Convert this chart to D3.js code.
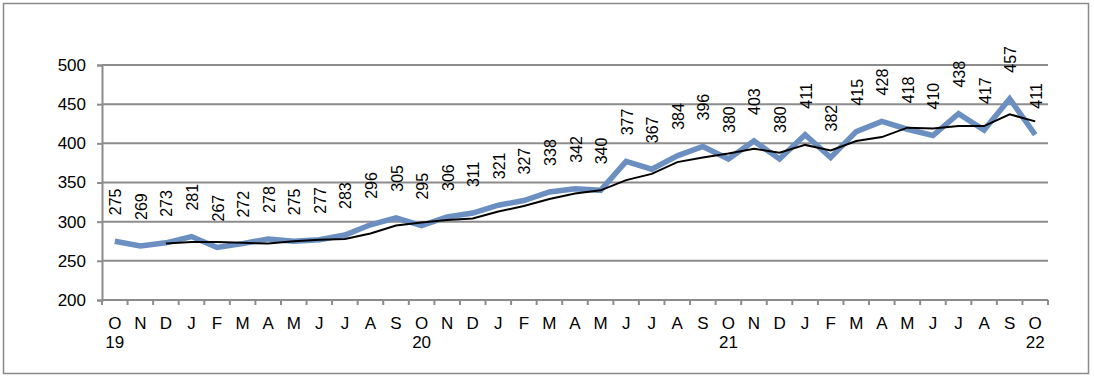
<!DOCTYPE html>
<html lang="en">
<head>
<meta charset="utf-8">
<script src="https://d3js.org/d3.v7.min.js"></script>
<style>
  body { margin: 0; background: #fff; }
  text { font-family: Arial, "Liberation Sans", sans-serif; fill: #000; }
</style>
</head>
<body>
<div id="my_dataviz"></div>
<script>

// months from Oct 2019 to Oct 2022
var months = ["O","N","D","J","F","M","A","M","J","J","A","S",
              "O","N","D","J","F","M","A","M","J","J","A","S",
              "O","N","D","J","F","M","A","M","J","J","A","S","O"];
var years = {0: "19", 12: "20", 24: "21", 36: "22"};

// monthly values (blue line, labelled)
var values = [275,269,273,281,267,272,278,275,277,283,296,305,
              295,306,311,321,327,338,342,340,377,367,384,396,
              380,403,380,411,382,415,428,418,410,438,417,457,411];

// smoothed line (black), starts at third month
var trend = [null,null,272,274,274,273,272,275,277,278,285,295,
             299,302,304,313,320,329,336,340,353,361,376,382,
             387,393,388,398,391,403,408,420,419,422,422,437,428];

var yTicks = [200,250,300,350,400,450,500];

var W = 1094, H = 380;
var margin = {top: 65, right: 46, bottom: 80, left: 102},
    width = W - margin.left - margin.right,
    height = H - margin.top - margin.bottom;

var svg = d3.select("#my_dataviz")
  .append("svg")
    .attr("width", W)
    .attr("height", H);

// outer frame
svg.append("rect")
  .attr("x", 3.5).attr("y", 3.5)
  .attr("width", 1085).attr("height", 370)
  .attr("fill", "none")
  .attr("stroke", "#8a8a8a")
  .attr("stroke-width", 1.5);

var g = svg.append("g")
  .attr("transform", "translate(" + margin.left + "," + margin.top + ")");

var x = d3.scaleBand()
  .domain(d3.range(months.length))
  .range([0, width]);

var y = d3.scaleLinear()
  .domain([200, 500])
  .range([height, 0]);

// gridlines
g.append("g")
  .selectAll("line")
  .data(yTicks)
  .enter()
  .append("line")
    .attr("x1", 0).attr("x2", width)
    .attr("y1", function(d) { return y(d); })
    .attr("y2", function(d) { return y(d); })
    .attr("stroke", "#8c8c8c")
    .attr("stroke-width", 2);

// Y axis
var yAxis = g.append("g")
  .call(d3.axisLeft(y).tickValues(yTicks).tickSize(5).tickPadding(11));
yAxis.select(".domain").attr("stroke", "#8c8c8c").attr("stroke-width", 2);
yAxis.selectAll(".tick line").attr("stroke", "#8c8c8c").attr("stroke-width", 2);
yAxis.selectAll(".tick text").style("font-size", "17px").attr("fill", "#000");

// X axis ticks between categories
var xb = g.append("g").attr("transform", "translate(0," + height + ")");
xb.selectAll("line")
  .data(d3.range(months.length + 1))
  .enter()
  .append("line")
    .attr("x1", function(i) { return i * x.step(); })
    .attr("x2", function(i) { return i * x.step(); })
    .attr("y1", 0).attr("y2", 5)
    .attr("stroke", "#8c8c8c")
    .attr("stroke-width", 2);

xb.selectAll("text.m")
  .data(months)
  .enter()
  .append("text")
    .attr("class", "m")
    .attr("x", function(d, i) { return x(i) + x.bandwidth() / 2; })
    .attr("y", 29)
    .attr("text-anchor", "middle")
    .style("font-size", "17px")
    .text(function(d) { return d; });

xb.selectAll("text.yr")
  .data(Object.keys(years))
  .enter()
  .append("text")
    .attr("class", "yr")
    .attr("x", function(k) { return x(+k) + x.bandwidth() / 2; })
    .attr("y", 48)
    .attr("text-anchor", "middle")
    .style("font-size", "17px")
    .text(function(k) { return years[k]; });

var cx = function(d, i) { return x(i) + x.bandwidth() / 2; };

// blue line
g.append("path")
  .datum(values)
  .attr("fill", "none")
  .attr("stroke", "#6a8fc0")
  .attr("stroke-width", 5.5)
  .attr("stroke-linejoin", "miter")
  .attr("d", d3.line().x(cx).y(function(d) { return y(d); }));

// black line
g.append("path")
  .datum(trend)
  .attr("fill", "none")
  .attr("stroke", "#000")
  .attr("stroke-width", 2)
  .attr("d", d3.line()
    .defined(function(d) { return d != null; })
    .x(cx).y(function(d) { return y(d); }));

// data labels
g.append("g")
  .selectAll("text")
  .data(values)
  .enter()
  .append("text")
    .attr("transform", function(d, i) {
      return "translate(" + (cx(d, i) + 6.5) + "," + (y(d) - 26) + ") rotate(-90)";
    })
    .style("font-size", "16px")
    .text(function(d) { return d; });

</script>
</body>
</html>
